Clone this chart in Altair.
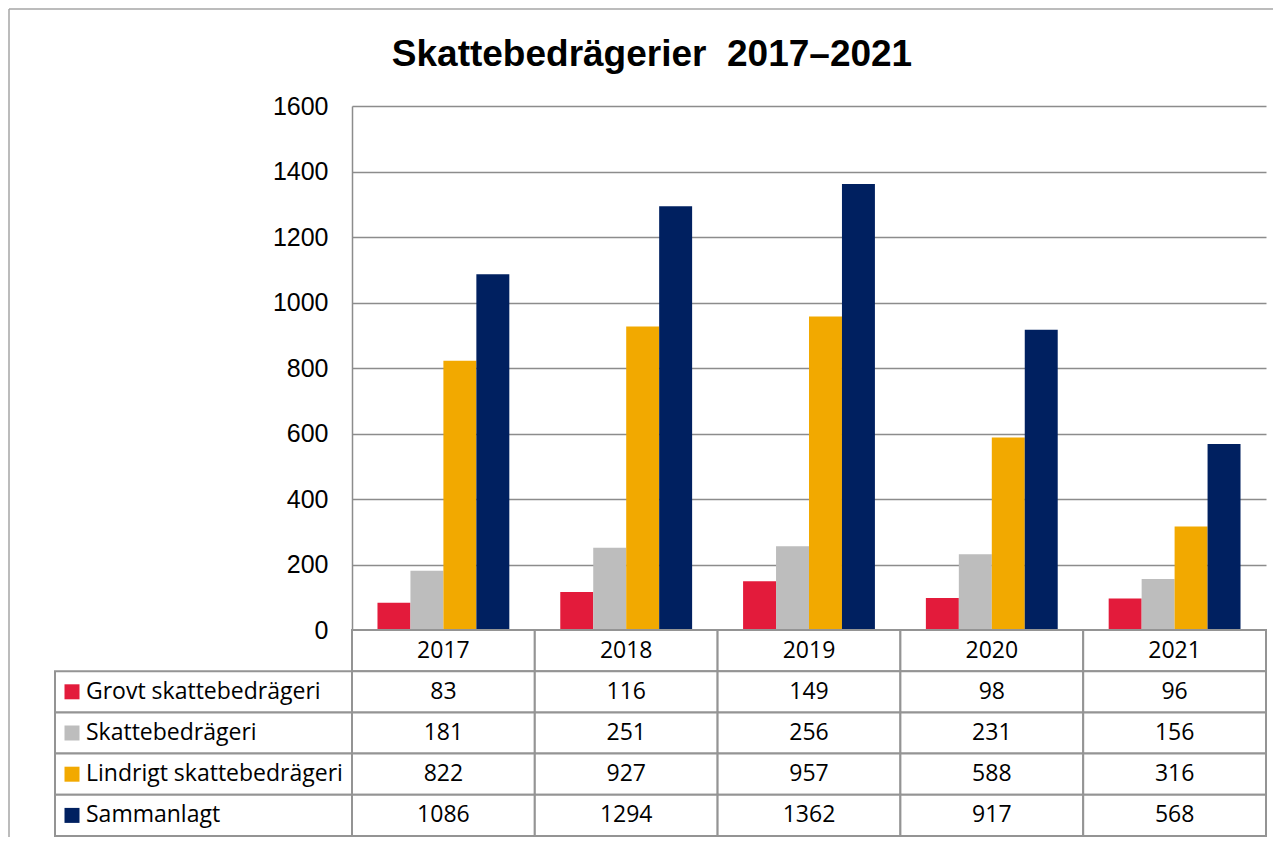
import altair as alt
import pandas as pd

# ---- data ----
years = ["2017", "2018", "2019", "2020", "2021"]
series = ["Grovt skattebedrägeri", "Skattebedrägeri", "Lindrigt skattebedrägeri", "Sammanlagt"]
grovt = [83, 116, 149, 98, 96]
skatte = [181, 251, 256, 231, 156]
lindrigt = [822, 927, 957, 588, 316]
sammanlagt = [1086, 1294, 1362, 917, 568]
colors = ["#E31B3B", "#BDBDBD", "#F2A900", "#002060"]
y_ticks = [0, 200, 400, 600, 800, 1000, 1200, 1400, 1600]
title_text = "Skattebedrägerier\u00a0\u00a02017–2021"

values = [grovt, skatte, lindrigt, sammanlagt]

bars_df = pd.DataFrame(
    [{"year": y, "series": s, "value": v[i]} for s, v in zip(series, values) for i, y in enumerate(years)]
)
hdr = "År"
cells_df = pd.DataFrame(
    [{"year": y, "row": hdr, "text": y} for y in years]
    + [{"year": y, "row": s, "text": str(v[i])} for s, v in zip(series, values) for i, y in enumerate(years)]
)
labels_df = pd.DataFrame({"row": series, "series": series})
dummy = pd.DataFrame({"a": [0]})

# ---- layout constants (pixels, relative to the plot area) ----
W, H = 914, 730
BAR_H = 524
LABEL_W = 297
line_col = "#949494"
grid_col = "#8C8C8C"
cell_font = "Open Sans"

x_scale = alt.Scale(domain=years, paddingInner=0, paddingOuter=0)
row_scale = alt.Scale(domain=[hdr] + series, range=[BAR_H, H], paddingInner=0, paddingOuter=0)
color_scale = alt.Scale(domain=series, range=colors)

frame_top = alt.Chart(dummy).mark_rule(color="#A6A6A6", strokeWidth=1.5).encode(
    x=alt.value(-343), x2=alt.value(921), y=alt.value(-97)
)
frame_left = alt.Chart(dummy).mark_rule(color="#A6A6A6", strokeWidth=1.5).encode(
    x=alt.value(-343), y=alt.value(-97), y2=alt.value(H + 1)
)

title = alt.Chart(dummy).mark_text(
    text=title_text, font="Liberation Sans", fontSize=37, fontWeight="bold",
    align="center", baseline="alphabetic", color="black"
).encode(x=alt.value(300), y=alt.value(-40.5))

bars = alt.Chart(bars_df).mark_bar().encode(
    x=alt.X("year:N", scale=x_scale, axis=None, sort=years),
    xOffset=alt.XOffset("series:N", sort=series,
                        scale=alt.Scale(domain=series, paddingInner=0, paddingOuter=0.773)),
    y=alt.Y("value:Q",
            scale=alt.Scale(domain=[0, 1600], range=[BAR_H, 0], nice=False, zero=True),
            axis=alt.Axis(values=y_ticks, grid=True, ticks=False, domain=True,
                          gridColor=grid_col, gridWidth=1.5, domainColor=grid_col, domainWidth=1.5,
                          labelFont="Liberation Sans", labelFontSize=25, labelColor="black",
                          labelPadding=24, title=None, format="d")),
    color=alt.Color("series:N", scale=color_scale, legend=None),
)

cells_rect = alt.Chart(cells_df).mark_rect(fill="white", stroke=line_col, strokeWidth=2).encode(
    x=alt.X("year:N", scale=x_scale, axis=None, sort=years),
    y=alt.Y("row:N", scale=row_scale, axis=None),
)
cells_text = alt.Chart(cells_df).mark_text(
    font=cell_font, fontSize=23, color="black", baseline="middle", align="center"
).encode(
    x=alt.X("year:N", scale=x_scale, axis=None, sort=years),
    y=alt.Y("row:N", scale=row_scale, axis=None),
    text="text:N",
)

label_rect = alt.Chart(labels_df).mark_rect(fill="white", stroke=line_col, strokeWidth=2).encode(
    x=alt.value(-LABEL_W), x2=alt.value(0),
    y=alt.Y("row:N", scale=row_scale, axis=None),
)
label_sq = alt.Chart(labels_df).mark_square(size=225, opacity=1, filled=True).encode(
    x=alt.value(-280),
    y=alt.Y("row:N", scale=row_scale, axis=None),
    color=alt.Color("series:N", scale=color_scale, legend=None),
)
label_text = alt.Chart(labels_df).mark_text(
    font=cell_font, fontSize=23, color="black", baseline="middle", align="left"
).encode(
    x=alt.value(-266),
    y=alt.Y("row:N", scale=row_scale, axis=None),
    text="row:N",
)

chart = alt.layer(
    frame_top, frame_left, title, bars, cells_rect, cells_text, label_rect, label_sq, label_text
).resolve_scale(y="independent").properties(
    width=W, height=H, padding=0, background="white"
).configure_view(stroke=None)

chart.save("out.html", embed_options={"renderer": "svg", "actions": False})
